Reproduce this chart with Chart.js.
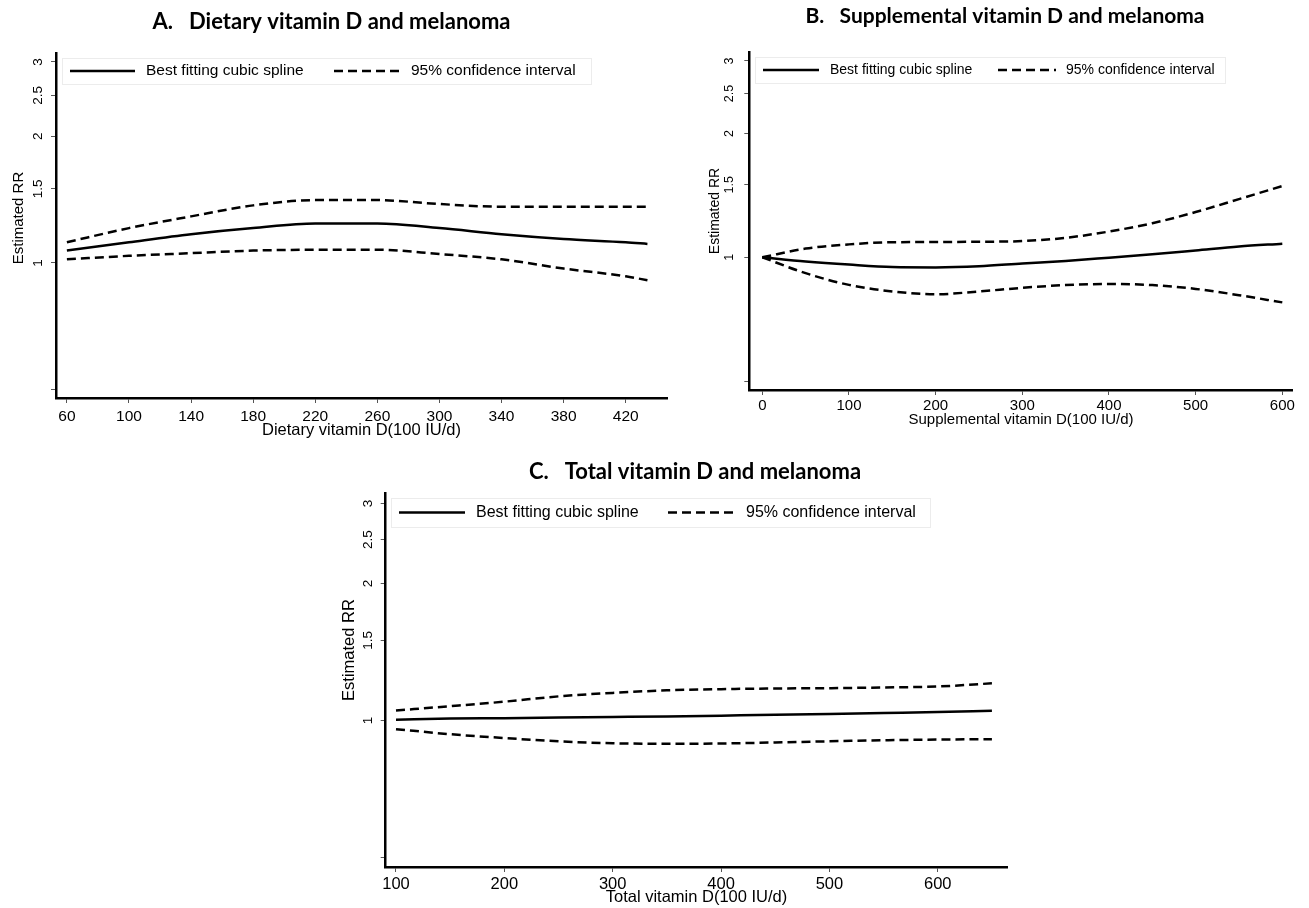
<!DOCTYPE html>
<html><head><meta charset="utf-8">
<script src="https://cdn.jsdelivr.net/npm/chart.js@4"></script>
<style>
html,body{margin:0;padding:0;background:#fff;}
#wrap{position:relative;width:1309px;height:908px;overflow:hidden;background:#fff;}
canvas{position:absolute;left:0;top:0;}
</style></head><body>
<div id="wrap">
<canvas id="cA" width="1309" height="908"></canvas>
<canvas id="cB" width="1309" height="908"></canvas>
<canvas id="cC" width="1309" height="908"></canvas>
</div>
<script>
// ---------- data ----------
const fitLabel = 'Best fitting cubic spline';
const ciLabel = '95% confidence interval';
const yTitle = 'Estimated RR';
const rrTicks = [0.5, 1, 1.5, 2, 2.5, 3];
const rrLabels = ['', '1', '1.5', '2', '2.5', '3'];

// A. Dietary vitamin D
const dietTitle = 'A.   Dietary vitamin D and melanoma';
const dietXTitle = 'Dietary vitamin D(100 IU/d)';
const dietTicks = [60, 100, 140, 180, 220, 260, 300, 340, 380, 420];
const dietX = [60, 100, 140, 180, 220, 260, 300, 340, 380, 420, 434];
const dietFit = [1.07, 1.12, 1.17, 1.21, 1.24, 1.24, 1.21, 1.17, 1.14, 1.12, 1.11];
const dietUpper = [1.12, 1.21, 1.29, 1.37, 1.41, 1.41, 1.38, 1.36, 1.36, 1.36, 1.36];
const dietLower = [1.02, 1.04, 1.055, 1.07, 1.075, 1.075, 1.05, 1.02, 0.97, 0.93, 0.91];

// B. Supplemental vitamin D
const suppTitle = 'B.   Supplemental vitamin D and melanoma';
const suppXTitle = 'Supplemental vitamin D(100 IU/d)';
const suppTicks = [0, 100, 200, 300, 400, 500, 600];
const suppX = [0, 50, 100, 150, 200, 250, 300, 350, 400, 450, 500, 550, 600];
const suppFit = [1.00, 0.977, 0.960, 0.947, 0.945, 0.951, 0.966, 0.980, 0.998, 1.017, 1.039, 1.062, 1.079];
const suppUpper = [1.00, 1.05, 1.075, 1.088, 1.089, 1.091, 1.095, 1.115, 1.155, 1.21, 1.288, 1.385, 1.49];
const suppLower = [1.00, 0.915, 0.857, 0.826, 0.813, 0.826, 0.843, 0.856, 0.861, 0.856, 0.838, 0.809, 0.777];

// C. Total vitamin D
const totalTitle = 'C.   Total vitamin D and melanoma';
const totalXTitle = 'Total vitamin D(100 IU/d)';
const totalTicks = [100, 200, 300, 400, 500, 600];
const totalX = [100, 150, 200, 250, 300, 350, 400, 450, 500, 550, 600, 650];
const totalFit = [1.004, 1.010, 1.012, 1.015, 1.018, 1.021, 1.025, 1.029, 1.034, 1.039, 1.044, 1.05];
const totalUpper = [1.052, 1.075, 1.10, 1.13, 1.15, 1.165, 1.172, 1.176, 1.178, 1.182, 1.188, 1.207];
const totalLower = [0.957, 0.933, 0.915, 0.90, 0.891, 0.889, 0.89, 0.895, 0.90, 0.905, 0.908, 0.91];

// ---------- helpers ----------
const FONT = 'Liberation Sans, Arial, sans-serif';
function pts(xs, ys) { return xs.map((x, i) => ({x: x, y: ys[i]})); }

function decorPlugin(c) {
  return {
    id: 'decor',
    afterDraw(chart) {
      const ctx = chart.ctx;
      // panel title
      ctx.save();
      ctx.fillStyle = '#000';
      ctx.font = 'bold ' + c.titleSize + 'px Lato, sans-serif';
      ctx.textAlign = 'center';
      ctx.textBaseline = 'middle';
      ctx.fillText(c.title, c.titleX, c.titleY);
      ctx.restore();
      // rotated y-axis title
      ctx.save();
      ctx.fillStyle = '#000';
      ctx.font = c.yTitleSize + 'px ' + FONT;
      ctx.translate(c.yTitleX, c.yTitleY);
      ctx.rotate(-Math.PI / 2);
      ctx.textAlign = 'center';
      ctx.textBaseline = 'middle';
      ctx.fillText(yTitle, 0, 0);
      ctx.restore();
      // legend box
      const L = c.legend;
      ctx.save();
      ctx.fillStyle = '#fff';
      ctx.fillRect(L.x, L.y, L.w, L.h);
      ctx.strokeStyle = '#ececec';
      ctx.lineWidth = 1;
      ctx.strokeRect(L.x + 0.5, L.y + 0.5, L.w, L.h);
      const cy = L.y + L.h / 2;
      const shown = chart.data.datasets.filter(d => d.inLegend);
      shown.forEach((d, i) => {
        const it = L.items[i];
        ctx.strokeStyle = d.borderColor;
        ctx.lineWidth = d.borderWidth;
        ctx.setLineDash(d.borderDash || []);
        ctx.beginPath();
        ctx.moveTo(it[0], cy);
        ctx.lineTo(it[1], cy);
        ctx.stroke();
        ctx.setLineDash([]);
        ctx.fillStyle = '#000';
        ctx.font = L.font + 'px ' + FONT;
        ctx.textAlign = 'left';
        ctx.textBaseline = 'middle';
        ctx.fillText(d.label, it[2], cy);
      });
      ctx.restore();
    }
  };
}

function makeChart(id, c) {
  const base = {borderColor: '#000', borderWidth: 2.5, pointRadius: 0, fill: false,
                cubicInterpolationMode: 'monotone'};
  const datasets = [
    Object.assign({}, base, {label: fitLabel, data: pts(c.x, c.fit), inLegend: true}),
    Object.assign({}, base, {label: ciLabel, data: pts(c.x, c.upper), borderDash: [9, 5], inLegend: true}),
    Object.assign({}, base, {label: ciLabel, data: pts(c.x, c.lower), borderDash: [9, 5]})
  ];
  const gridOpts = {display: true, drawOnChartArea: false, drawTicks: true, tickLength: 5, color: '#555', lineWidth: 1};
  const borderOpts = {display: true, color: '#000', width: 2.5};
  return new Chart(document.getElementById(id), {
    type: 'line',
    data: {datasets: datasets},
    options: {
      responsive: false, animation: false, devicePixelRatio: 1,
      layout: {autoPadding: false, padding: c.pad},
      plugins: {
        legend: {display: false},
        tooltip: {enabled: false},
        title: {display: false}
      },
      scales: {
        x: {
          type: 'linear', min: c.xMin, max: c.xMax,
          afterBuildTicks: s => { s.ticks = c.ticks.map(v => ({value: v})); },
          afterFit: s => { s.height = c.xH; },
          ticks: {autoSkip: false, maxRotation: 0, minRotation: 0, color: '#000', padding: c.xTickPad,
                  font: {family: FONT, size: c.xTickSize}, callback: v => String(v)},
          grid: gridOpts, border: borderOpts,
          title: {display: true, text: c.xTitle, color: '#000', padding: {top: 0, bottom: 0},
                  font: {family: FONT, size: c.xTitleSize, lineHeight: 1.2}}
        },
        y: {
          type: 'logarithmic', min: c.yMin, max: c.yMax,
          afterBuildTicks: s => { s.ticks = rrTicks.map(v => ({value: v})); },
          afterFit: s => { s.width = c.yW; },
          ticks: {autoSkip: false, minRotation: 90, maxRotation: 90, crossAlign: 'center', color: '#000',
                  padding: c.yTickPad, font: {family: FONT, size: c.yTickSize},
                  callback: v => { const i = rrTicks.indexOf(v); return i >= 0 ? rrLabels[i] : ''; }},
          grid: gridOpts, border: borderOpts
        }
      }
    },
    plugins: [decorPlugin(c)]
  });
}

makeChart('cA', {
  title: dietTitle, titleX: 331.5, titleY: 22, titleSize: 22,
  xTitle: dietXTitle, ticks: dietTicks,
  x: dietX, fit: dietFit, upper: dietUpper, lower: dietLower,
  pad: {left: 0, right: 642, top: 53, bottom: 468.1},
  xMin: 52.98, xMax: 446.6, yMin: 0.4782, yMax: 3.150,
  xH: 41.9, yW: 56,
  xTickPad: 4, xTickSize: 15.5, xTitleSize: 16.5,
  yTickPad: 3.3, yTickSize: 13.5,
  yTitleX: 19, yTitleY: 218, yTitleSize: 15,
  legend: {x: 62, y: 58, w: 529, h: 26, font: 15.5, items: [[70, 135, 146], [334, 401, 411]]}
});

makeChart('cB', {
  title: suppTitle, titleX: 1005, titleY: 16, titleSize: 21,
  xTitle: suppXTitle, ticks: suppTicks,
  x: suppX, fit: suppFit, upper: suppUpper, lower: suppLower,
  pad: {left: 717.3, right: 16.3, top: 52.7, bottom: 479},
  xMin: -15.0, xMax: 612.0, yMin: 0.4759, yMax: 3.142,
  xH: 39, yW: 32,
  xTickPad: 2, xTickSize: 15, xTitleSize: 15,
  yTickPad: 5.6, yTickSize: 12.5,
  yTitleX: 715, yTitleY: 211, yTitleSize: 14,
  legend: {x: 755, y: 57, w: 470, h: 26, font: 14, items: [[763, 819, 830], [998, 1056, 1066]]}
});

makeChart('cC', {
  title: totalTitle, titleX: 695, titleY: 472, titleSize: 22,
  xTitle: totalXTitle, ticks: totalTicks,
  x: totalX, fit: totalFit, upper: totalUpper, lower: totalLower,
  pad: {left: 340, right: 301.7, top: 493, bottom: 1.1},
  xMin: 90.5, xMax: 664.2, yMin: 0.4763, yMax: 3.164,
  xH: 39.9, yW: 45.7,
  xTickPad: 3, xTickSize: 16.5, xTitleSize: 16.5,
  yTickPad: 3, yTickSize: 13.5,
  yTitleX: 349, yTitleY: 650, yTitleSize: 16.5,
  legend: {x: 391, y: 498, w: 539, h: 29, font: 16, items: [[399, 465, 476], [668, 735, 746]]}
});
</script>
</body></html>
